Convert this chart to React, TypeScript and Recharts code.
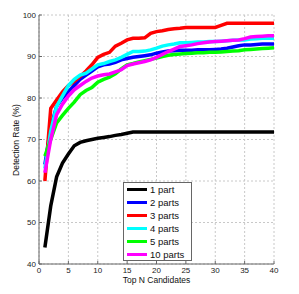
import { CartesianGrid, Line, LineChart, XAxis, YAxis } from "recharts";

// Top N candidates (x axis), 1..40
const topN = Array.from({ length: 40 }, (_, i) => i + 1);

// Detection rate (%) per number of parts
const onePart = [
  44, 54, 61, 64.3, 66.5, 68.5, 69.3, 69.7, 70, 70.3, 70.5, 70.7, 71, 71.2, 71.5, 71.8,
  71.8, 71.8, 71.8, 71.8, 71.8, 71.8, 71.8, 71.8, 71.8, 71.8, 71.8, 71.8, 71.8, 71.8,
  71.8, 71.8, 71.8, 71.8, 71.8, 71.8, 71.8, 71.8, 71.8, 71.8,
];
const twoParts = [
  64, 73, 78, 80, 81.5, 83, 84.5, 85.5, 86.5, 87.5, 88, 88.2, 88.6, 89.2, 89.5, 89.8,
  90, 90.2, 90.4, 90.8, 91.1, 91.3, 91.4, 91.5, 91.5, 91.5, 91.6, 91.6, 91.6, 91.7,
  91.8, 92, 92.3, 92.6, 92.8, 92.8, 92.9, 93, 93, 93,
];
const threeParts = [
  60, 77.5, 79.5, 81.5, 83, 84, 85.2, 86.5, 88, 89.8, 90.5, 91, 92.5, 93.2, 94, 94.4,
  94.4, 94.5, 95.6, 96, 96.2, 96.5, 96.7, 96.8, 97, 97, 97, 97, 97, 97,
  97.5, 98, 98, 98, 98, 98, 98, 98, 98, 98,
];
const fourParts = [
  63, 72, 78, 80.5, 83, 84.5, 85.5, 86, 87, 88, 88.3, 88.8, 89.2, 89.8, 90.5, 91.2,
  91.2, 91.3, 91.6, 92, 92.5, 92.8, 93, 93.3, 93.3, 93.4, 93.5, 93.5, 93.6, 93.6,
  93.7, 93.8, 93.9, 94, 94, 94.2, 94.3, 94.4, 94.4, 94.4,
];
const fiveParts = [
  66, 70, 74, 75.8, 77.5, 79, 80.8, 81.8, 82.5, 83.8, 84.5, 85, 85.8, 87, 88, 88.3,
  88.7, 89, 89.3, 89.6, 90, 90.3, 90.5, 90.6, 90.7, 90.8, 90.9, 90.9, 91, 91,
  91.1, 91.2, 91.3, 91.4, 91.6, 91.7, 91.8, 91.9, 92, 92.1,
];
const tenParts = [
  62, 70, 76, 78.5, 80.5, 82, 83, 84, 84.8, 85.3, 85.6, 85.8, 86.3, 86.8, 87.8, 88.2,
  88.5, 88.8, 89.2, 89.8, 90.5, 91.2, 91.8, 92.4, 92.6, 92.8, 93.1, 93.3, 93.5, 93.6,
  93.7, 93.8, 93.9, 94, 94.3, 94.7, 94.8, 94.9, 95, 95,
];

const xTicks = [0, 5, 10, 15, 20, 25, 30, 35, 40];
const yTicks = [40, 50, 60, 70, 80, 90, 100];

const series = [
  { key: "p1", name: "1 part", color: "#000000", values: onePart },
  { key: "p2", name: "2 parts", color: "#0000ff", values: twoParts },
  { key: "p3", name: "3 parts", color: "#ff0000", values: threeParts },
  { key: "p4", name: "4 parts", color: "#00ffff", values: fourParts },
  { key: "p5", name: "5 parts", color: "#00ff00", values: fiveParts },
  { key: "p10", name: "10 parts", color: "#ff00ff", values: tenParts },
];

const data = topN.map((n, i) => {
  const row: Record<string, number> = { n };
  series.forEach((s) => (row[s.key] = s.values[i]));
  return row;
});

const FONT = "'Liberation Sans', Arial, sans-serif";

// legend drawn as an overlay so it doesn't steal room from the plot
function LegendBox() {
  return (
    <div
      style={{
        position: "absolute",
        left: 123,
        top: 182,
        width: 64,
        height: 77,
        border: "1px solid #666",
        background: "#fff",
        paddingLeft: 3,
        fontFamily: FONT,
        fontSize: 9.5,
        color: "#111",
      }}
    >
      {series.map((s) => (
        <div key={s.key} style={{ display: "flex", alignItems: "center", height: 13 }}>
          <span style={{ width: 20, height: 3.5, background: s.color, marginRight: 3, flex: "none" }} />
          <span style={{ whiteSpace: "nowrap" }}>{s.name}</span>
        </div>
      ))}
    </div>
  );
}

export default function App() {
  return (
    <div style={{ position: "absolute", left: 0, top: 0, width: 299, height: 294, background: "#fff" }}>
      <LineChart width={299} height={294} data={data} margin={{ top: 15, right: 25, bottom: 0, left: 0 }}>
        <CartesianGrid stroke="#c8c8c8" strokeDasharray="2 2" />
        {/* negative tickSize = matlab-style inward ticks */}
        <XAxis
          dataKey="n"
          type="number"
          domain={[0, 40]}
          ticks={xTicks}
          height={30}
          tickSize={-3}
          tickMargin={6}
          stroke="#666"
          tick={{ fontSize: 8, fill: "#222", fontFamily: FONT }}
          label={{ value: "Top N Candidates", position: "insideBottom", offset: 11, fontSize: 8.5, fill: "#111", fontFamily: FONT }}
        />
        <YAxis
          type="number"
          domain={[40, 100]}
          ticks={yTicks}
          width={39}
          tickSize={-3}
          tickMargin={6}
          stroke="#666"
          tick={{ fontSize: 8, fill: "#222", fontFamily: FONT }}
        />
        {series.map((s) => (
          <Line
            key={s.key}
            type="linear"
            dataKey={s.key}
            name={s.name}
            stroke={s.color}
            strokeWidth={3.5}
            dot={false}
            isAnimationActive={false}
          />
        ))}
      </LineChart>
      <div
        style={{
          position: "absolute",
          left: 16,
          top: 140,
          transform: "translate(-50%, -50%) rotate(-90deg)",
          whiteSpace: "nowrap",
          fontFamily: FONT,
          fontSize: 8.5,
          color: "#111",
        }}
      >
        Detection Rate (%)
      </div>
      <LegendBox />
    </div>
  );
}
